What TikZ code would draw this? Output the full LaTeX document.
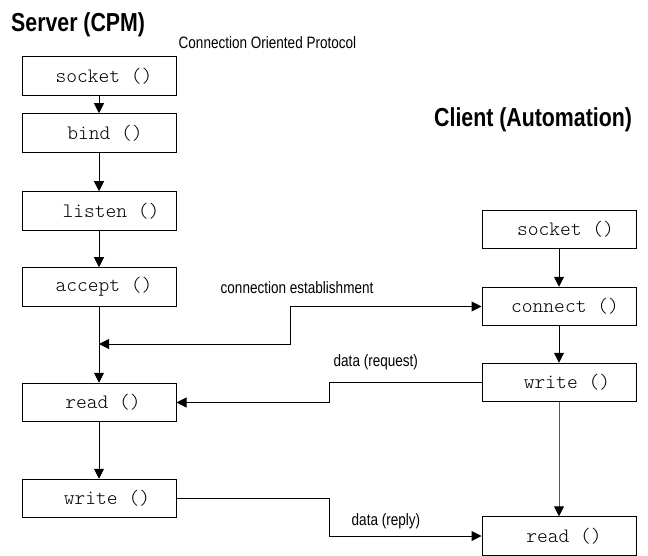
\documentclass[tikz,border=0pt]{standalone}
\usepackage{fontspec}
\newfontfamily\labfont{Liberation Sans}[FakeStretch=0.82]
\newfontfamily\boxfont{lmmonolt10-regular.otf}
\usetikzlibrary{arrows.meta}
\begin{document}
\begin{tikzpicture}[x=1pt,y=-1pt,
  fbox/.style={draw=black,line width=1pt,minimum width=154pt,minimum height=38.5pt,inner sep=0pt,
    font=\boxfont\fontsize{20.5}{24}\selectfont},
  arr/.style={line width=1pt,-{Triangle[length=10pt,width=10pt]}},
  darr/.style={line width=1pt,{Triangle[length=10pt,width=10pt]}-{Triangle[length=10pt,width=10pt]}},
  lab/.style={font=\labfont\fontsize{16.5}{19}\selectfont,inner sep=0pt,anchor=base west},
  ttl/.style={font=\labfont\bfseries\fontsize{26}{30}\selectfont,inner sep=0pt,anchor=base west}]
\useasboundingbox (0,0) rectangle (648,556);

% titles and labels
\node[ttl] (tserver) at (11,31.5) {Server (CPM)};
\node[ttl] (tclient) at (434,126.7) {Client (Automation)};
\node[lab] (tproto) at (178.5,48.7) {Connection Oriented Protocol};
\node[lab] (tconn) at (220.5,293) {connection establishment};
\node[lab] (treq) at (333.5,366) {data (request)};
\node[lab] (trep) at (351.5,525) {data (reply)};

% server boxes
\node[fbox] (s1) at (99,76) {\hspace*{10pt}socket ()};
\node[fbox] (b1) at (99,133) {\hspace*{12pt}bind ()};
\node[fbox] (l1) at (99,211) {\hspace*{24pt}listen ()};
\node[fbox] (a1) at (99,287) {\hspace*{10pt}accept ()};
\node[fbox] (r1) at (99,402.5) {\hspace*{8pt}read ()};
\node[fbox] (w1) at (99,498.5) {\hspace*{16pt}write ()};

% client boxes
\node[fbox] (s2) at (559,229.5) {\hspace*{13pt}socket ()};
\node[fbox] (c2) at (559,306.5) {\hspace*{12pt}connect ()};
\node[fbox] (w2) at (559,382.5) {\hspace*{16pt}write ()};
\node[fbox] (r2) at (559,536) {\hspace*{10pt}read ()};

% helper coordinates
\coordinate (ce) at (99,344);
\coordinate (cv) at (290,344);
\coordinate (rq) at (329,402.5);
\coordinate (rp) at (329,536);

% server flow
\draw[arr] (s1) -- (b1);
\draw[arr] (b1) -- (l1);
\draw[arr] (l1) -- (a1);
\draw[arr] (a1) -- (r1);
\draw[arr] (r1) -- (w1);

% client flow
\draw[arr] (s2) -- (c2);
\draw[arr] (c2) -- (w2);
\draw[arr,draw=black!65,-{Triangle[length=10pt,width=10pt,color=black]}] (w2) -- (r2);

% cross connections
\draw[darr] (ce) -- (cv) |- (c2.west);
\draw[arr] (w2.west) -| (rq) -- (r1.east);
\draw[arr] (w1.east) -| (rp) -- (r2.west);
\end{tikzpicture}
\end{document}
